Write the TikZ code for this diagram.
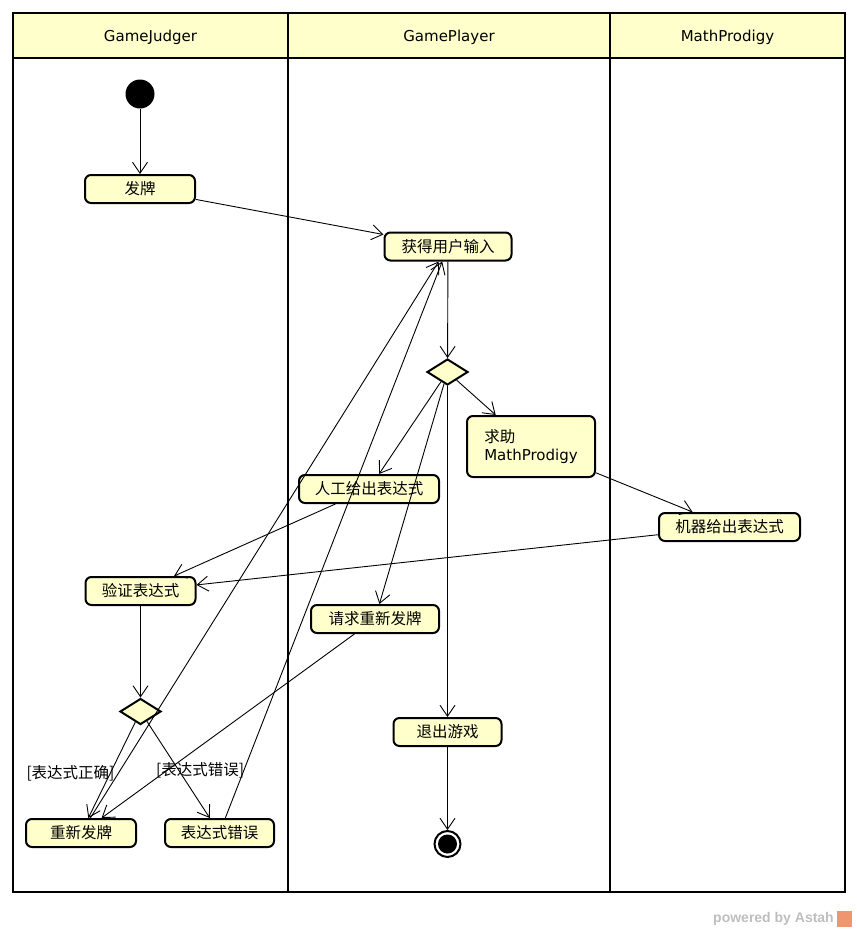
\documentclass[tikz,border=0pt]{standalone}
\usepackage{fontspec}
\setmainfont{DejaVu Sans}
\newfontfamily\cjk{Noto Sans CJK SC}
\newfontfamily\wmfont{Liberation Sans}
\usetikzlibrary{arrows.meta,shapes.geometric}
\definecolor{nodefill}{RGB}{255,255,204}
\definecolor{wmgray}{RGB}{190,190,190}
\definecolor{wmorange}{RGB}{240,150,110}
\begin{document}
\begin{tikzpicture}[x=1pt,y=-1pt,
  act/.style={draw, line width=2pt, rounded corners=6pt, fill=nodefill, inner sep=0pt,
    minimum height=28pt, font=\cjk\fontsize{15.5}{18}\selectfont},
  dec/.style={draw, diamond, line width=2pt, fill=nodefill, inner sep=0pt,
    minimum width=41pt, minimum height=26pt},
  flow/.style={line width=0.9pt, -{Straight Barb[length=11pt,width=15pt,line width=0.9pt]}},
  lane/.style={line width=2pt},
  head/.style={font=\fontsize{15}{18}\selectfont},
  guard/.style={font=\cjk\fontsize{15.5}{18}\selectfont, inner sep=0pt}
]
\useasboundingbox (0,0) rectangle (857,932);
% swimlane frame
\fill[nodefill] (13,13) rectangle (845,58);
\draw[lane] (13,13) rectangle (845,892);
\draw[lane] (13,58) -- (845,58);
\draw[lane] (288,13) -- (288,892);
\draw[lane] (610,13) -- (610,892);
\node[head] (h1) at (150.5,37) {GameJudger};
\node[head] (h2) at (449,37) {GamePlayer};
\node[head] (h3) at (727.5,37) {MathProdigy};

% nodes
\node[circle, fill=black, minimum size=29pt, inner sep=0pt] (start) at (140,94) {};
\node[act, minimum width=110pt] (fapai) at (140,189) {发牌};
\node[act, minimum width=127pt] (input) at (448,246.5) {获得用户输入};
\node[dec] (d1) at (447.5,372) {};
\node[act, minimum width=128pt, minimum height=61pt, align=left] (help) at (531,446.5)
  {求助\\{\fontspec{DejaVu Sans}\fontsize{15}{18}\selectfont MathProdigy}};
\node[act, minimum width=140pt] (manual) at (369,489) {人工给出表达式};
\node[act, minimum width=141pt] (machine) at (729.5,527) {机器给出表达式};
\node[act, minimum width=110pt] (verify) at (140.5,591) {验证表达式};
\node[act, minimum width=128pt] (request) at (375,619) {请求重新发牌};
\node[act, minimum width=108pt] (quit) at (447.5,732) {退出游戏};
\node[dec] (d2) at (140.5,711.5) {};
\node[act, minimum width=110pt] (redeal) at (81,833) {重新发牌};
\node[act, minimum width=109pt] (wrong) at (219.5,833) {表达式错误};
\node[circle, draw, line width=2pt, fill=white, minimum size=26pt, inner sep=0pt] (end) at (447.5,844) {};
\node[circle, fill=black, minimum size=19pt, inner sep=0pt] (endin) at (end.center) {};

% guards
\node[guard] (g1) at (70.5,773.5) {[表达式正确]};
\node[guard] (g2) at (200,770.5) {[表达式错误]};

% connectors
\draw[flow] (start) -- (fapai);
\draw[flow] (fapai) -- (input);
\draw[flow] (input) -- (d1);
\draw[flow] (d1) -- (help);
\draw[flow] (d1) -- (manual);
\draw[flow] (d1) -- (request);
\draw[flow] (d1) -- (quit);
\draw[flow] (help) -- (machine);
\draw[flow] (machine) -- (verify);
\draw[flow] (manual) -- (verify);
\draw[flow] (verify) -- (d2);
\draw[flow] (d2) -- (redeal);
\draw[flow] (d2) -- (wrong);
\draw[flow] (request) -- (redeal);
\draw[flow] (redeal) -- (input);
\draw[flow] (wrong) -- (input);
\draw[flow] (quit) -- (end);

% watermark
\node[font=\wmfont\bfseries\fontsize{14}{16}\selectfont, text=wmgray, anchor=east, inner sep=0pt] (wm) at (834,919) {powered by Astah};
\fill[wmorange] (837,911) rectangle (852,927);
\end{tikzpicture}
\end{document}
